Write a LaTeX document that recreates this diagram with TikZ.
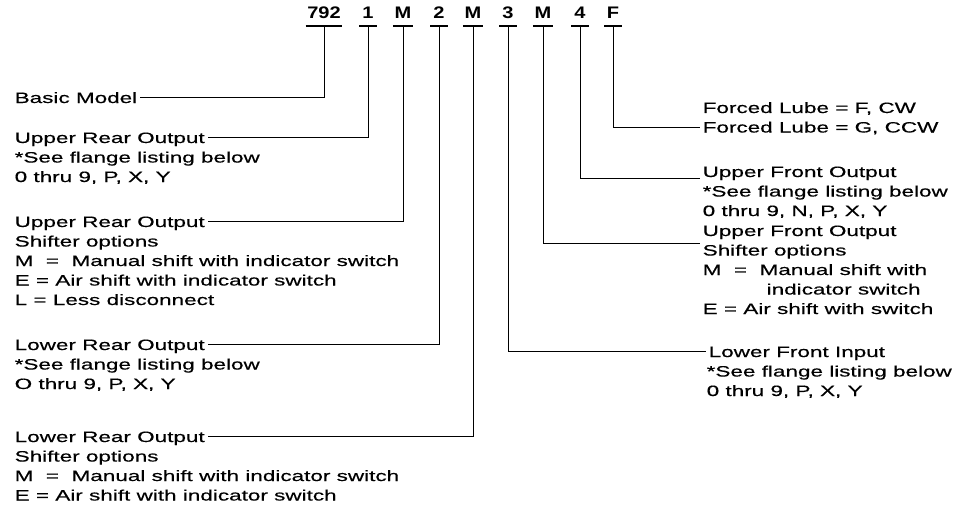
\documentclass[tikz,border=0pt]{standalone}
\usepackage{fontspec}
\setmainfont{Liberation Sans}[FakeStretch=1.5,FakeBold=0.4]
\newfontfamily\codefont{Liberation Sans}[FakeStretch=1.2]
\usetikzlibrary{positioning}

\tikzset{
  txt/.style={font=\fontsize{15}{19.5}\selectfont, anchor=base west,
    inner xsep=2.5pt, inner ysep=1pt, text height=10.8pt, text depth=0pt},
  code/.style={font={\codefont\fontsize{16.7}{20}\selectfont\bfseries}, anchor=base,
    inner xsep=1.5pt, inner ysep=0pt, text depth=7pt, minimum width=17pt},
  uline/.style={line width=1.4pt},
  wire/.style={line width=0.9pt},
}

\begin{document}
\begin{tikzpicture}[x=1pt,y=-1pt]
\useasboundingbox (0,0) rectangle (973,524);

% model number
\foreach \n/\t/\x in {c792/792/324, c1/1/368, m1/M/403, c2/2/439, m2/M/473,
                      c3/3/508, m3/M/543, c4/4/580, cf/F/613} {
  \node[code] (\n) at (\x,19) {\t};
  \draw[uline] (\n.south west) -- (\n.south east);
}

% rear side (left)
\node[txt] (bm) at (12,103) {Basic Model};
\node[txt] (uro) at (12,143) {Upper Rear Output};
\foreach \t [count=\i] in {*See flange listing below, {0 thru 9, P, X, Y}}
  \node[txt] (uro-\i) at (12,143+19.5*\i) {\t};
\node[txt] (urs) at (12,227) {Upper Rear Output};
\foreach \t [count=\i] in {Shifter options, M\ \ =\ \ Manual shift with indicator switch,
    E = Air shift with indicator switch, L = Less disconnect}
  \node[txt] (urs-\i) at (12,227+19.5*\i) {\t};
\node[txt] (lro) at (12,350) {Lower Rear Output};
\foreach \t [count=\i] in {*See flange listing below, {O thru 9, P, X, Y}}
  \node[txt] (lro-\i) at (12,350+19.5*\i) {\t};
\node[txt] (lrs) at (12,442) {Lower Rear Output};
\foreach \t [count=\i] in {Shifter options, M\ \ =\ \ Manual shift with indicator switch,
    E = Air shift with indicator switch}
  \node[txt] (lrs-\i) at (12,442+19.5*\i) {\t};

% front side (right)
\node[txt] (fl-1) at (700,113) {Forced Lube = F, CW};
\node[txt] (fl-2) at (700,132.5) {Forced Lube = G, CCW};
\node[txt] (ufo) at (700,177) {Upper Front Output};
\foreach \t [count=\i] in {*See flange listing below, {0 thru 9, N, P, X, Y}}
  \node[txt] (ufo-\i) at (700,177+19.5*\i) {\t};
\node[txt] (ufs) at (700,236) {Upper Front Output};
\foreach \t [count=\i] in {Shifter options, M\ \ =\ \ Manual shift with,
    \hspace{64pt}indicator switch, E = Air shift with switch}
  \node[txt] (ufs-\i) at (700,236+19.5*\i) {\t};
\node[txt] (lfi) at (706,357) {Lower Front Input};
\foreach \t [count=\i] in {*See flange listing below, {0 thru 9, P, X, Y}}
  \node[txt] (lfi-\i) at (704,357+19.5*\i) {\t};

% leaders
\draw[wire] (c792.south) |- (bm.east);
\draw[wire] (c1.south) |- (uro.east);
\draw[wire] (m1.south) |- (urs.east);
\draw[wire] (c2.south) |- (lro.east);
\draw[wire] (m2.south) |- (lrs.east);
\draw[wire] (cf.south) |- (fl-2.west);
\draw[wire] (c4.south) |- (ufo.south west);
\draw[wire] (m3.south) |- (ufs-1.north west);
\draw[wire] (c3.south) |- (lfi.west);
\end{tikzpicture}
\end{document}
